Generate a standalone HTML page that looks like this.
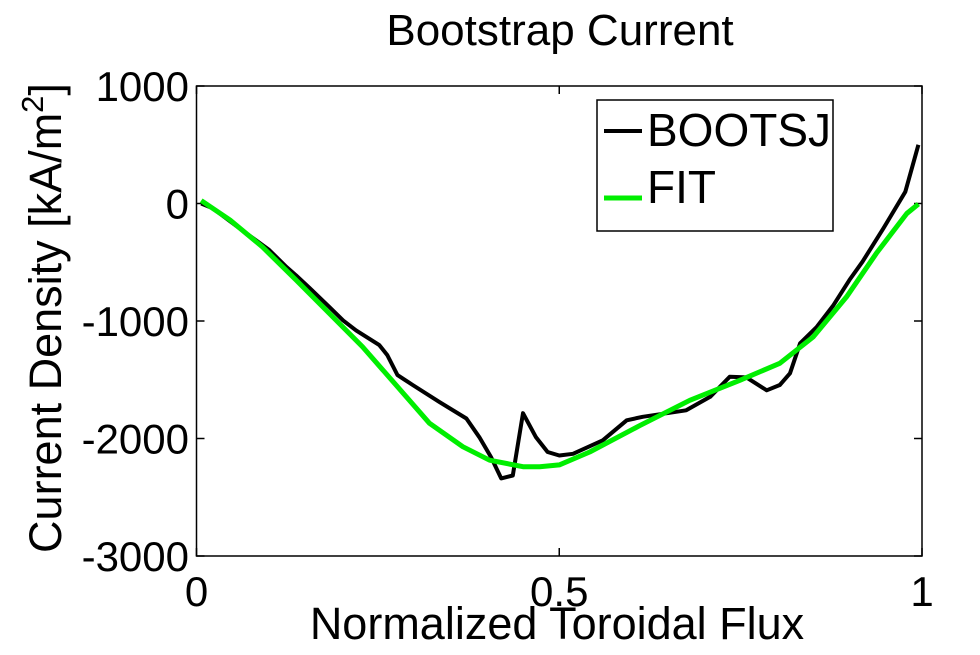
<!DOCTYPE html>
<html><head><meta charset="utf-8"><style>
body{margin:0;background:#fff;}
svg text{font-family:"Liberation Sans",sans-serif;fill:#000;}
</style></head><body>
<svg width="980" height="650" xmlns="http://www.w3.org/2000/svg">
<g id="axes"></g>
<g id="series"></g>
<g id="legend"></g>
</svg>
<script>
const xTicks=[0,0.5,1];
const xTickLabels=["0","0.5","1"];
const yTicks=[1000,0,-1000,-2000,-3000];
const yTickLabels=["1000","0","-1000","-2000","-3000"];
const bootX=[0.0065,0.022,0.059,0.10,0.124,0.137,0.156,0.183,0.202,0.22,0.252,0.263,0.277,0.298,0.335,0.372,0.39,0.406,0.42,0.436,0.45,0.468,0.484,0.50,0.519,0.56,0.593,0.615,0.675,0.708,0.735,0.758,0.786,0.804,0.818,0.832,0.855,0.878,0.90,0.918,0.947,0.977,0.995];
const bootY=[0,-40,-210,-395,-540,-610,-720,-880,-995,-1080,-1205,-1290,-1460,-1545,-1690,-1830,-1990,-2160,-2340,-2315,-1785,-1990,-2115,-2145,-2130,-2015,-1845,-1815,-1760,-1645,-1475,-1480,-1590,-1545,-1445,-1190,-1050,-865,-650,-495,-210,100,500];
const fitX=[0.0065,0.046,0.091,0.137,0.183,0.229,0.275,0.321,0.367,0.404,0.45,0.473,0.50,0.542,0.611,0.68,0.749,0.804,0.85,0.896,0.937,0.979,0.995];
const fitY=[25,-140,-370,-650,-935,-1220,-1545,-1870,-2070,-2185,-2240,-2240,-2225,-2115,-1890,-1675,-1505,-1360,-1135,-795,-425,-85,-5];

const L=196.5,R=922,T=86,B=556;
const xs=v=>L+(v-0)/(1-0)*(R-L);
const ys=v=>T+(1000-v)/4000*(B-T);
const NS="http://www.w3.org/2000/svg";
function mk(tag,attrs,parent,text){const e=document.createElementNS(NS,tag);for(const k in attrs)e.setAttribute(k,attrs[k]);if(text!==undefined)e.textContent=text;parent.appendChild(e);return e;}
const axes=document.getElementById('axes');
const box=mk('rect',{x:L,y:T,width:R-L,height:B-T,fill:'none',stroke:'#000','stroke-width':1.5},axes);


xTicks.forEach((t,i)=>{
  const x=xs(t);
  const a=mk('line',{x1:x,y1:B,x2:x,y2:B-8,stroke:'#000','stroke-width':1.5},axes);
  
  
  const b=mk('line',{x1:x,y1:T,x2:x,y2:T+8,stroke:'#000','stroke-width':1.5},axes);
  
  
  const tx=mk('text',{x:x,y:606,'font-size':42,'text-anchor':'middle'},axes,xTickLabels[i]);
  
  
});
yTicks.forEach((t,i)=>{
  const y=ys(t);
  const a=mk('line',{x1:L,y1:y,x2:L+8,y2:y,stroke:'#000','stroke-width':1.5},axes);
  
  
  const b=mk('line',{x1:R,y1:y,x2:R-8,y2:y,stroke:'#000','stroke-width':1.5},axes);
  
  
  const tx=mk('text',{x:189,y:y+15,'font-size':42,'text-anchor':'end'},axes,yTickLabels[i]);
  
  
});
const title=mk('text',{x:560,y:45,'font-size':44,'text-anchor':'middle'},axes,'Bootstrap Current');


const xl=mk('text',{x:557,y:639,'font-size':45,'text-anchor':'middle'},axes,'Normalized Toroidal Flux');


const yl=mk('text',{x:0,y:0,'font-size':45,'text-anchor':'middle',transform:'translate(61,318) rotate(-90)'},axes);


yl.appendChild(document.createTextNode('Current Density [kA/m'));
mk('tspan',{dy:-18,'font-size':31},yl,'2');
mk('tspan',{dy:18},yl,']');

const ser=document.getElementById('series');
function path(X,Y){return X.map((v,i)=>(i?'L':'M')+xs(v).toFixed(1)+' '+ys(Y[i]).toFixed(1)).join(' ');}
const pb=mk('path',{d:path(bootX,bootY),fill:'none',stroke:'#000','stroke-width':4,'stroke-linejoin':'round'},ser);


const pf=mk('path',{d:path(fitX,fitY),fill:'none',stroke:'#00ee00','stroke-width':5,'stroke-linejoin':'round'},ser);



const lg=document.getElementById('legend');


mk('rect',{x:597,y:100,width:236,height:131,fill:'#fff',stroke:'#000','stroke-width':1.5},lg);
mk('line',{x1:604,y1:131,x2:642,y2:131,stroke:'#000','stroke-width':4},lg);
const t1=mk('text',{x:647,y:146,'font-size':46},lg,'BOOTSJ');


mk('line',{x1:604,y1:198,x2:642,y2:198,stroke:'#00ee00','stroke-width':5},lg);
const t2=mk('text',{x:647,y:203,'font-size':46},lg,'FIT');


</script>
</body></html>
